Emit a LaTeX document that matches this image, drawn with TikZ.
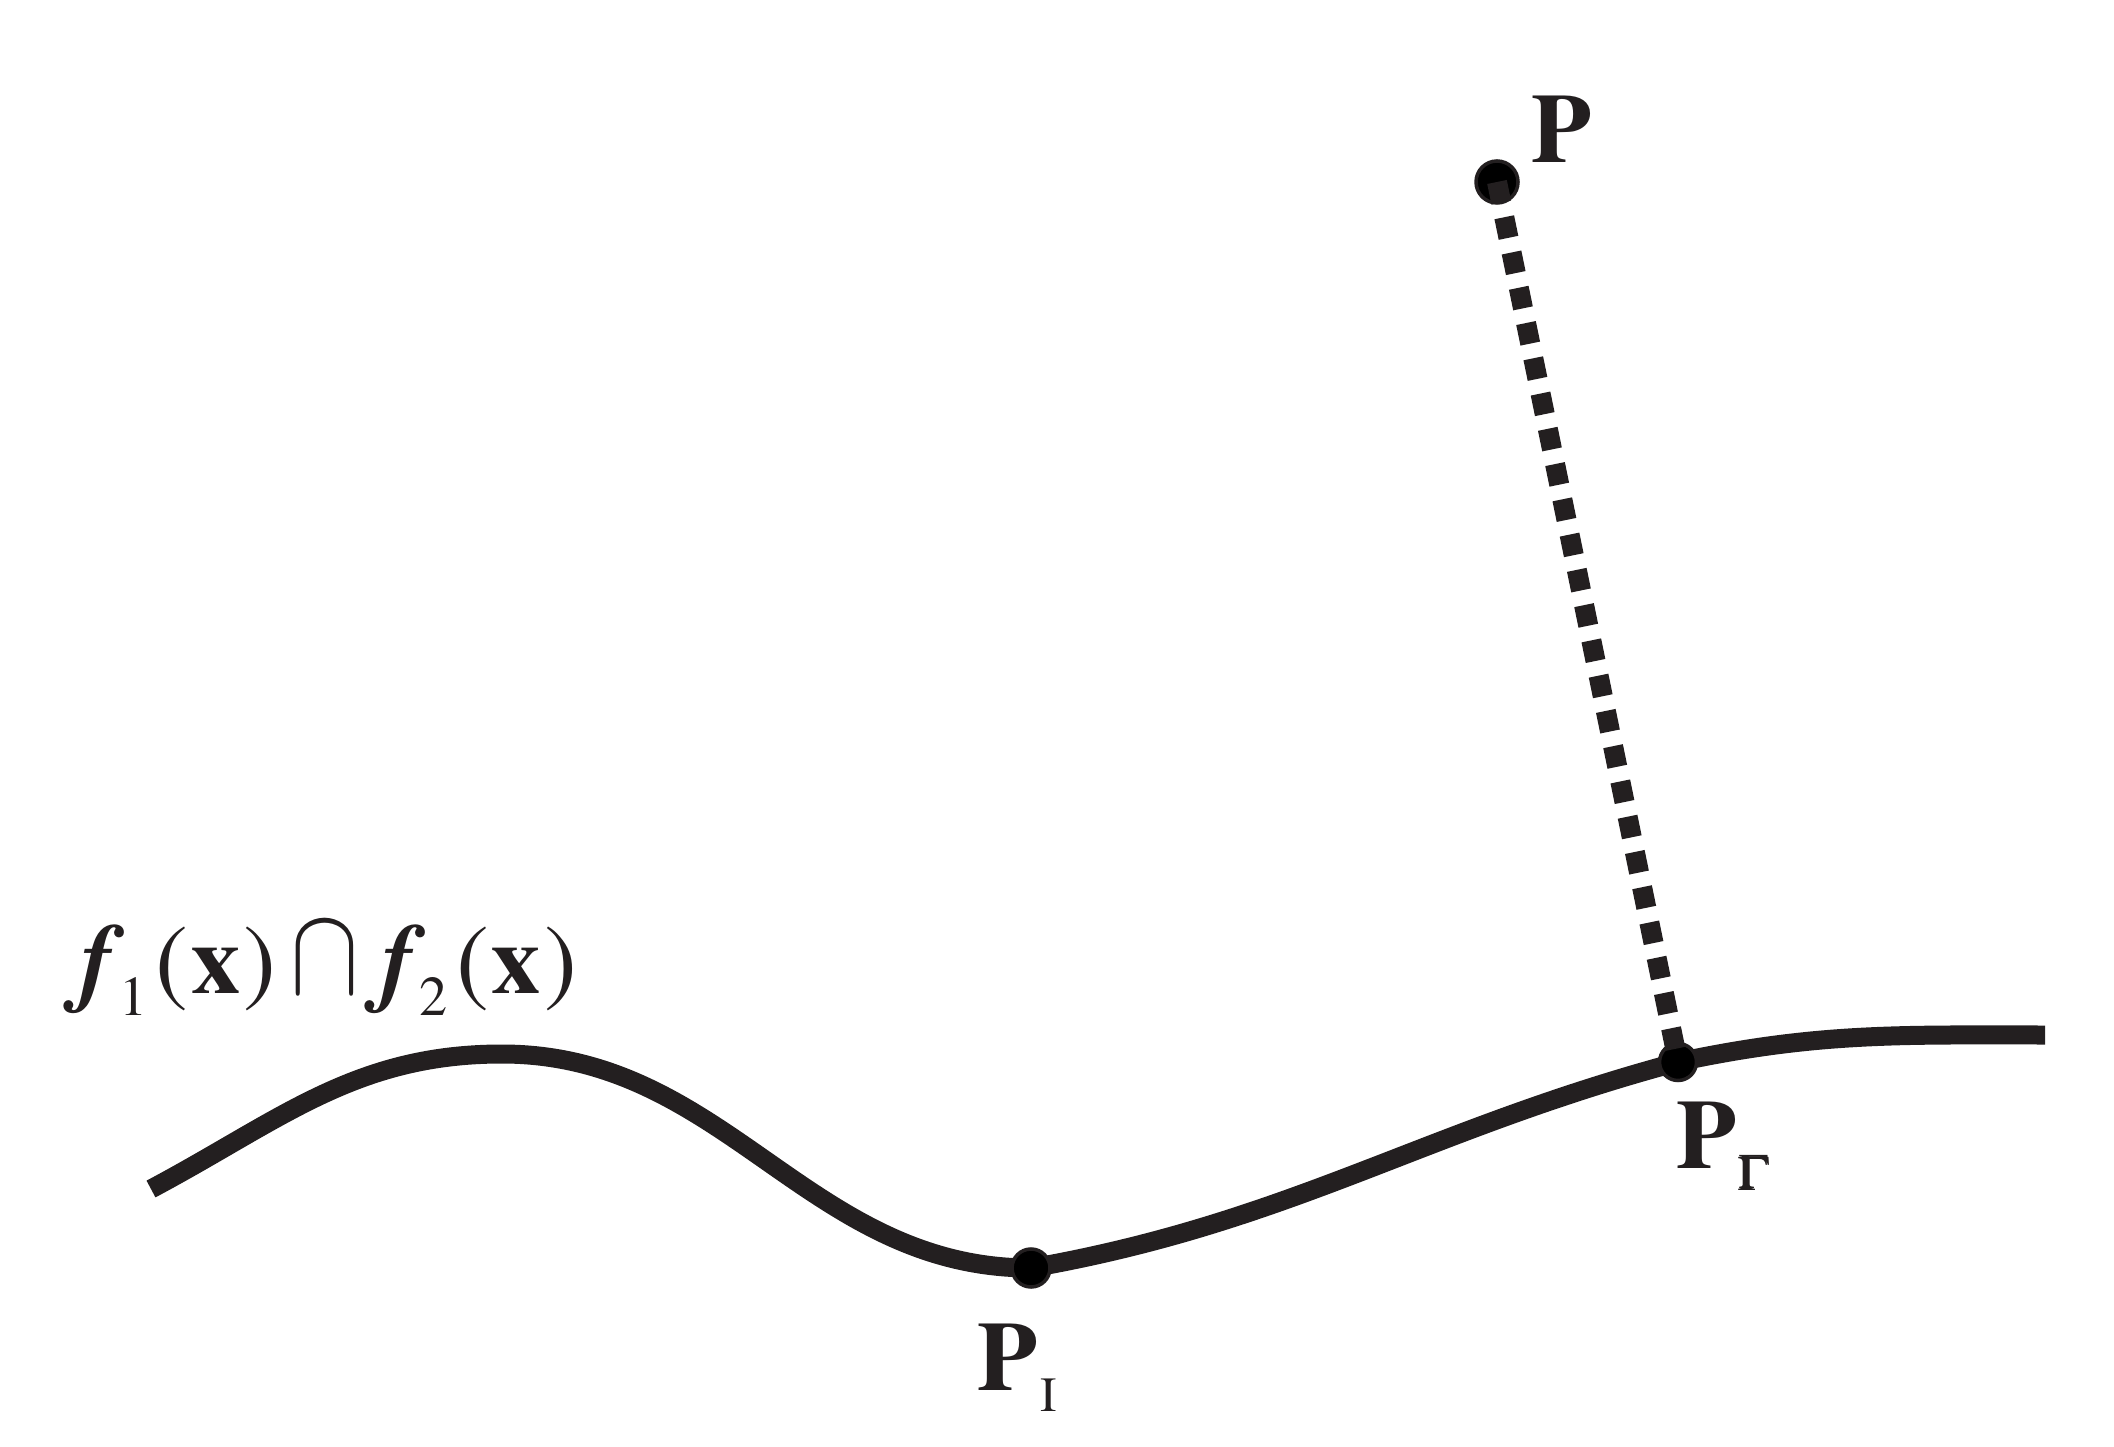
\documentclass[tikz,border=0pt]{standalone}
\usepackage[T1]{fontenc}
\usepackage{mathptmx}
\usepackage{amsmath}
\usetikzlibrary{positioning}
\definecolor{ink}{HTML}{231F20}
\newcommand{\lblsz}{\fontsize{28}{32}\selectfont}
\newcommand{\subsz}{\fontsize{14}{16}\selectfont}
\newcommand{\idxsz}{\fontsize{16}{18}\selectfont}
\begin{document}
\begin{tikzpicture}[every node/.style={font=\lblsz, text=ink, inner sep=0pt}]
\tikzset{
  dot/.style={circle, fill=black, draw=ink, line width=1pt, minimum size=#1},
  curveline/.style={draw=ink, line width=0.19cm},
  dotline/.style={draw=ink, line width=0.2cm, dash pattern=on 0.21cm off 0.15cm}
}
\useasboundingbox (0,0) rectangle (21.14,14.46);

% the curve
\coordinate (c0) at (1.51,2.57);
\coordinate (c1) at (5.02,3.92);
\coordinate (c2) at (10.31,1.78);
\coordinate (c3) at (16.78,3.84);
\coordinate (c4) at (20.45,4.11);
\draw[curveline] (c0) to[out=28,in=180] (c1) to[out=0,in=180] (c2)
  to[out=10,in=195] (c3) to[out=12,in=180] (c4);

% points
\node[dot=0.42cm] (p) at (14.97,12.64) {};
\node[dot=0.38cm] (pi) at (10.31,1.78) {};
\node[dot=0.37cm] (pg) at (16.78,3.84) {};
\draw[dotline] (p.center) -- (pg.center);

% labels
\node[anchor=base west] (plabel) at (15.31,12.83) {\bfseries P};
\node[anchor=base west] (pilabel) at (9.77,0.56)
  {\bfseries P\hspace{0.03cm}\raisebox{-0.21cm}{\subsz\mdseries I}};
\node[anchor=base west] (pglabel) at (16.76,2.78)
  {\bfseries P\hspace{0.03cm}\raisebox{-0.22cm}{\subsz\pmb{$\Gamma$}}};
\node[anchor=base west] (flabel) at (0.80,4.53)
  {{\bfseries\itshape f}\hspace{0.06cm}\raisebox{-0.22cm}{\idxsz 1}\hspace{0.08cm}(\hspace{0.03cm}\textbf{x}\hspace{0.03cm})\hspace{0.14cm}\scalebox{1.05}[1.28]{$\cap$}\hspace{0.22cm}{\bfseries\itshape f}\hspace{0.06cm}\raisebox{-0.22cm}{\idxsz 2}\hspace{0.08cm}(\hspace{0.03cm}\textbf{x}\hspace{0.03cm})};
\end{tikzpicture}
\end{document}
